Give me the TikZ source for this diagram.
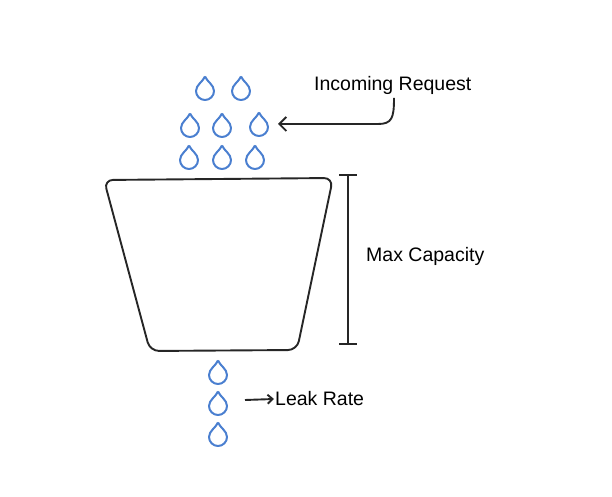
\documentclass[tikz,border=0pt]{standalone}
\usepackage{fontspec}
\setmainfont{Liberation Sans}
\usetikzlibrary{arrows.meta}
\definecolor{dropblue}{HTML}{4A7FD0}
\begin{document}
\begin{tikzpicture}[x=1pt,y=1pt,
  drop/.pic={\draw[dropblue,line width=2pt,line join=round] (0,12.5) .. controls (2,7.5) and (9,4) .. (9,-2) arc[start angle=0,end angle=-180,radius=9] .. controls (-9,4) and (-2,7.5) .. (0,12.5);},
  lbl/.style={font=\fontsize{19.5}{22}\selectfont,inner sep=1pt},
  ln/.style={line width=1.9pt,black!85}]
\useasboundingbox (0,0) rectangle (612,497);
\foreach \x/\y in {205/89,241/89,190/126,222/126,259/125,189/158,222/158,255/158,218/373,218/404,218/435}
  \pic at (\x,497-\y) {drop};
\draw[ln,rounded corners=9pt] (104,497-180) -- (333,497-178) -- (297,497-350) -- (150,497-351) -- cycle;
\coordinate (bt) at (348,497-175);
\coordinate (bb) at (348,497-344);
\draw[ln] (bt) -- (bb);
\draw[ln] ([xshift=-9]bt) -- ([xshift=9]bt);
\draw[ln] ([xshift=-9]bb) -- ([xshift=9]bb);
\node[lbl,anchor=west] (max) at (365,497-256) {Max Capacity};
\node[lbl,anchor=west] (inc) at (313,497-85) {Incoming Request};
\coordinate (it) at (278,497-124);
\draw[ln,-{Straight Barb[length=7pt,width=14pt]}] (394,497-98) .. controls (394,497-118) and (392,497-124) .. (378,497-124) -- (it);
\node[lbl,anchor=west] (leak) at (274,497-399) {Leak Rate};
\coordinate (ls) at (245,497-400);
\draw[ln,-{Straight Barb[length=5pt,width=9pt]}] (ls) -- (leak.west);
\end{tikzpicture}
\end{document}
